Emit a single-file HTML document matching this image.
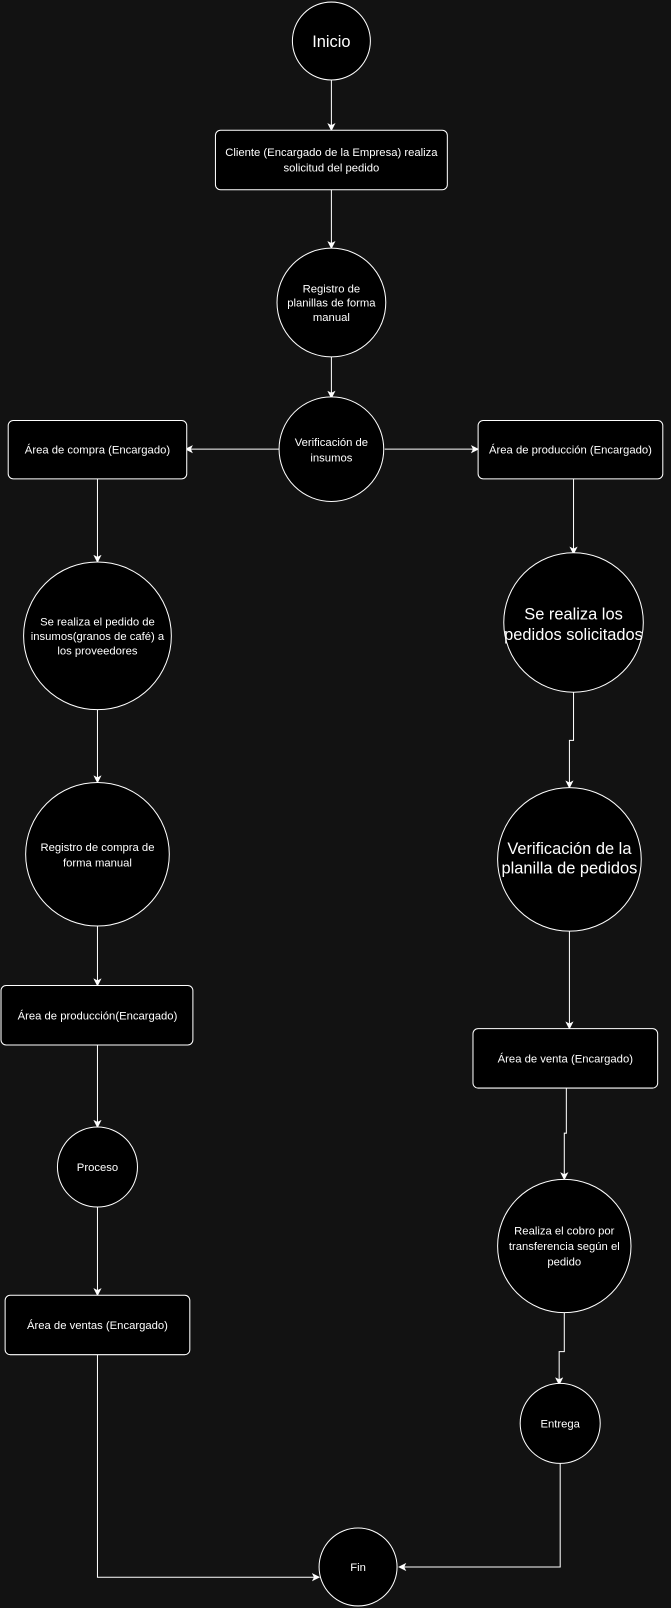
<!DOCTYPE html>
<html><head><meta charset="utf-8"><style>
html,body{margin:0;padding:0;background:#121212;}
svg{display:block;}
text{font-family:"Liberation Sans",sans-serif;fill:#fff;text-anchor:middle;}
</style></head><body>
<svg width="671" height="1608" viewBox="0 0 654 1568" preserveAspectRatio="none" xmlns="http://www.w3.org/2000/svg">
<defs><marker id="a" markerWidth="8" markerHeight="8" refX="7" refY="4" orient="auto" markerUnits="userSpaceOnUse"><path d="M0,0 L8,4 L0,8 L2,4 z" fill="#fff"/></marker></defs>
<rect width="654" height="1568" fill="#121212"/>
<g stroke="#fff" stroke-width="1" fill="none" marker-end="url(#a)">
<path d="M323,78V127"/><path d="M323,185V242"/><path d="M323,348V388"/>
<path d="M272,438H181"/><path d="M375,438H466"/>
<path d="M95,467V548"/><path d="M95,692V763"/><path d="M95,903V961"/><path d="M95,1019V1099"/><path d="M95,1177V1263"/>
<path d="M95,1321V1538H311"/>
<path d="M559,467V540"/><path d="M559,675V722H555V768"/><path d="M555,908V1003"/>
<path d="M552,1061V1105H550V1150"/><path d="M550,1280V1318H545V1350"/><path d="M546,1427V1528H389"/>
</g>
<g stroke="#fff" stroke-width="1" fill="#000">
<circle cx="323" cy="40" r="38"/>
<rect x="210" y="127" width="226" height="58" rx="5"/>
<circle cx="323" cy="295" r="53"/>
<circle cx="323" cy="438" r="51"/>
<rect x="8" y="410" width="174" height="57" rx="5"/>
<rect x="466" y="410" width="180" height="57" rx="5"/>
<circle cx="95" cy="620" r="72"/>
<circle cx="95" cy="833" r="70"/>
<rect x="1" y="961" width="187" height="58" rx="5"/>
<circle cx="95" cy="1138" r="39"/>
<rect x="5" y="1263" width="180" height="58" rx="5"/>
<circle cx="559" cy="607" r="68"/>
<circle cx="555" cy="838" r="70"/>
<rect x="461" y="1003" width="180" height="58" rx="5"/>
<circle cx="550" cy="1215" r="65"/>
<circle cx="546" cy="1388" r="39"/>
<circle cx="349" cy="1528" r="38"/>
</g>
<g font-size="11">
<text x="323" y="46" font-size="16">Inicio</text>
<text x="323" y="152">Cliente (Encargado de la Empresa) realiza</text>
<text x="323" y="167">solicitud del pedido</text>
<text x="323" y="285">Registro de</text><text x="323" y="299">planillas de forma</text><text x="323" y="313">manual</text>
<text x="323" y="435">Verificación de</text><text x="323" y="450">insumos</text>
<text x="95" y="442">Área de compra (Encargado)</text>
<text x="556" y="442">Área de producción (Encargado)</text>
<text x="95" y="610">Se realiza el pedido de</text><text x="95" y="624">insumos(granos de café) a</text><text x="95" y="638">los proveedores</text>
<text x="95" y="830">Registro de compra de</text><text x="95" y="845">forma manual</text>
<text x="95" y="994">Área de producción(Encargado)</text>
<text x="95" y="1142">Proceso</text>
<text x="95" y="1296">Área de ventas (Encargado)</text>
<text x="559" y="604" font-size="16">Se realiza los</text><text x="559" y="624" font-size="16">pedidos solicitados</text>
<text x="555" y="833" font-size="16">Verificación de la</text><text x="555" y="852" font-size="16">planilla de pedidos</text>
<text x="551" y="1036">Área de venta (Encargado)</text>
<text x="550" y="1204">Realiza el cobro por</text><text x="550" y="1219">transferencia según el</text><text x="550" y="1234">pedido</text>
<text x="546" y="1392">Entrega</text>
<text x="349" y="1532">Fin</text>
</g>
</svg>
</body></html>
